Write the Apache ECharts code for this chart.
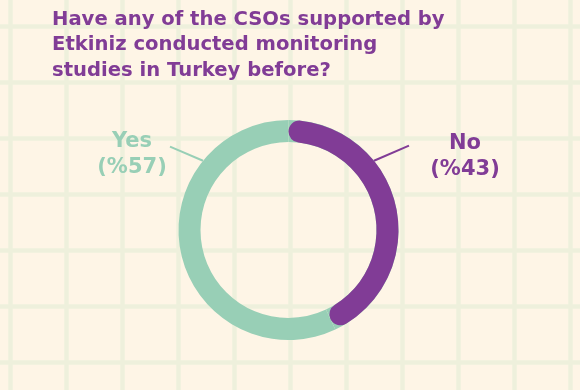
<!DOCTYPE html>
<html>
<head>
<meta charset="utf-8">
<script src="https://cdn.jsdelivr.net/npm/echarts@6/dist/echarts.min.js"></script>
<style>
html,body{margin:0;padding:0;background:#FEF5E6;}
#c{width:580px;height:390px;}
</style>
</head>
<body>
<div id="c"></div>
<script>
const titleText = 'Have any of the CSOs supported by\nEtkiniz conducted monitoring\nstudies in Turkey before?';
const categories = ['No', 'Yes'];
const values = [43, 57];
const colors = ['#813C96', '#98CFB6'];

const FONT = '"DejaVu Sans", sans-serif';
const cx = 288.5, cy = 230, rIn = 88, rOut = 110;
// label line: start angle (deg, clockwise from 12 o'clock), end point; label centre
const labelGeom = [
  { ang: 51, end: [409, 145.7], lx: 465, ly: 157 },
  { ang: -51, end: [170, 146.7], lx: 132, ly: 155 }
];
function polar(a, r) {
  const t = a * Math.PI / 180;
  return [cx + r * Math.sin(t), cy - r * Math.cos(t)];
}

const noAxis = { axisLine: { show: false }, axisTick: { show: false }, axisLabel: { show: false } };
const gridLine = { show: true, lineStyle: { color: '#EEF0DC', width: 4.5 } };

const chart = echarts.init(document.getElementById('c'));
chart.setOption({
  backgroundColor: '#FEF5E6',
  animation: false,
  title: {
    text: titleText,
    left: 47,
    top: 2,
    textStyle: { fontFamily: FONT, fontSize: 19.6, fontWeight: 'bold', color: '#813C96', lineHeight: 25.5 }
  },
  grid: [
    { left: 10, right: 10, top: 0, bottom: 0 },
    { left: 0, right: 0, top: 26, bottom: 28 }
  ],
  xAxis: [
    Object.assign({ type: 'value', gridIndex: 0, min: 0, max: 10, interval: 1, splitLine: gridLine }, noAxis),
    Object.assign({ type: 'value', gridIndex: 1, min: 0, max: 1, splitLine: { show: false } }, noAxis)
  ],
  yAxis: [
    Object.assign({ type: 'value', gridIndex: 0, min: 0, max: 1, splitLine: { show: false } }, noAxis),
    Object.assign({ type: 'value', gridIndex: 1, min: 0, max: 6, interval: 1, splitLine: gridLine }, noAxis)
  ],
  series: [
    {
      type: 'pie',
      z: 2,
      center: [cx, cy],
      radius: [rIn, rOut],
      startAngle: 90,
      clockwise: true,
      silent: true,
      data: categories.map((c, i) => ({
        name: c,
        value: values[i],
        itemStyle: { color: colors[1] },
        label: { color: colors[i] },
        labelLine: { lineStyle: { color: colors[i] } }
      })),
      label: {
        show: true,
        formatter: p => p.name + '\n(%' + p.value + ')',
        fontFamily: FONT, fontSize: 21, fontWeight: 'bold', lineHeight: 26, align: 'center'
      },
      labelLine: { show: true, length: 20, length2: 0, lineStyle: { width: 2 } },
      labelLayout: function (params) {
        const g = labelGeom[params.dataIndex];
        const p1 = polar(g.ang, rOut);
        return {
          x: g.lx, y: g.ly, align: 'center', verticalAlign: 'middle',
          labelLinePoints: [p1, g.end, g.end]
        };
      }
    },
    {
      type: 'pie',
      z: 3,
      center: [cx, cy],
      radius: [rIn, rOut],
      startAngle: 90,
      clockwise: true,
      silent: true,
      label: { show: false },
      labelLine: { show: false },
      data: categories.map((c, i) => ({
        name: c,
        value: values[i],
        itemStyle: i === 0 ? { color: colors[0], borderRadius: 11 } : { color: 'rgba(0,0,0,0)' }
      }))
    }
  ]
});
</script>
</body>
</html>
